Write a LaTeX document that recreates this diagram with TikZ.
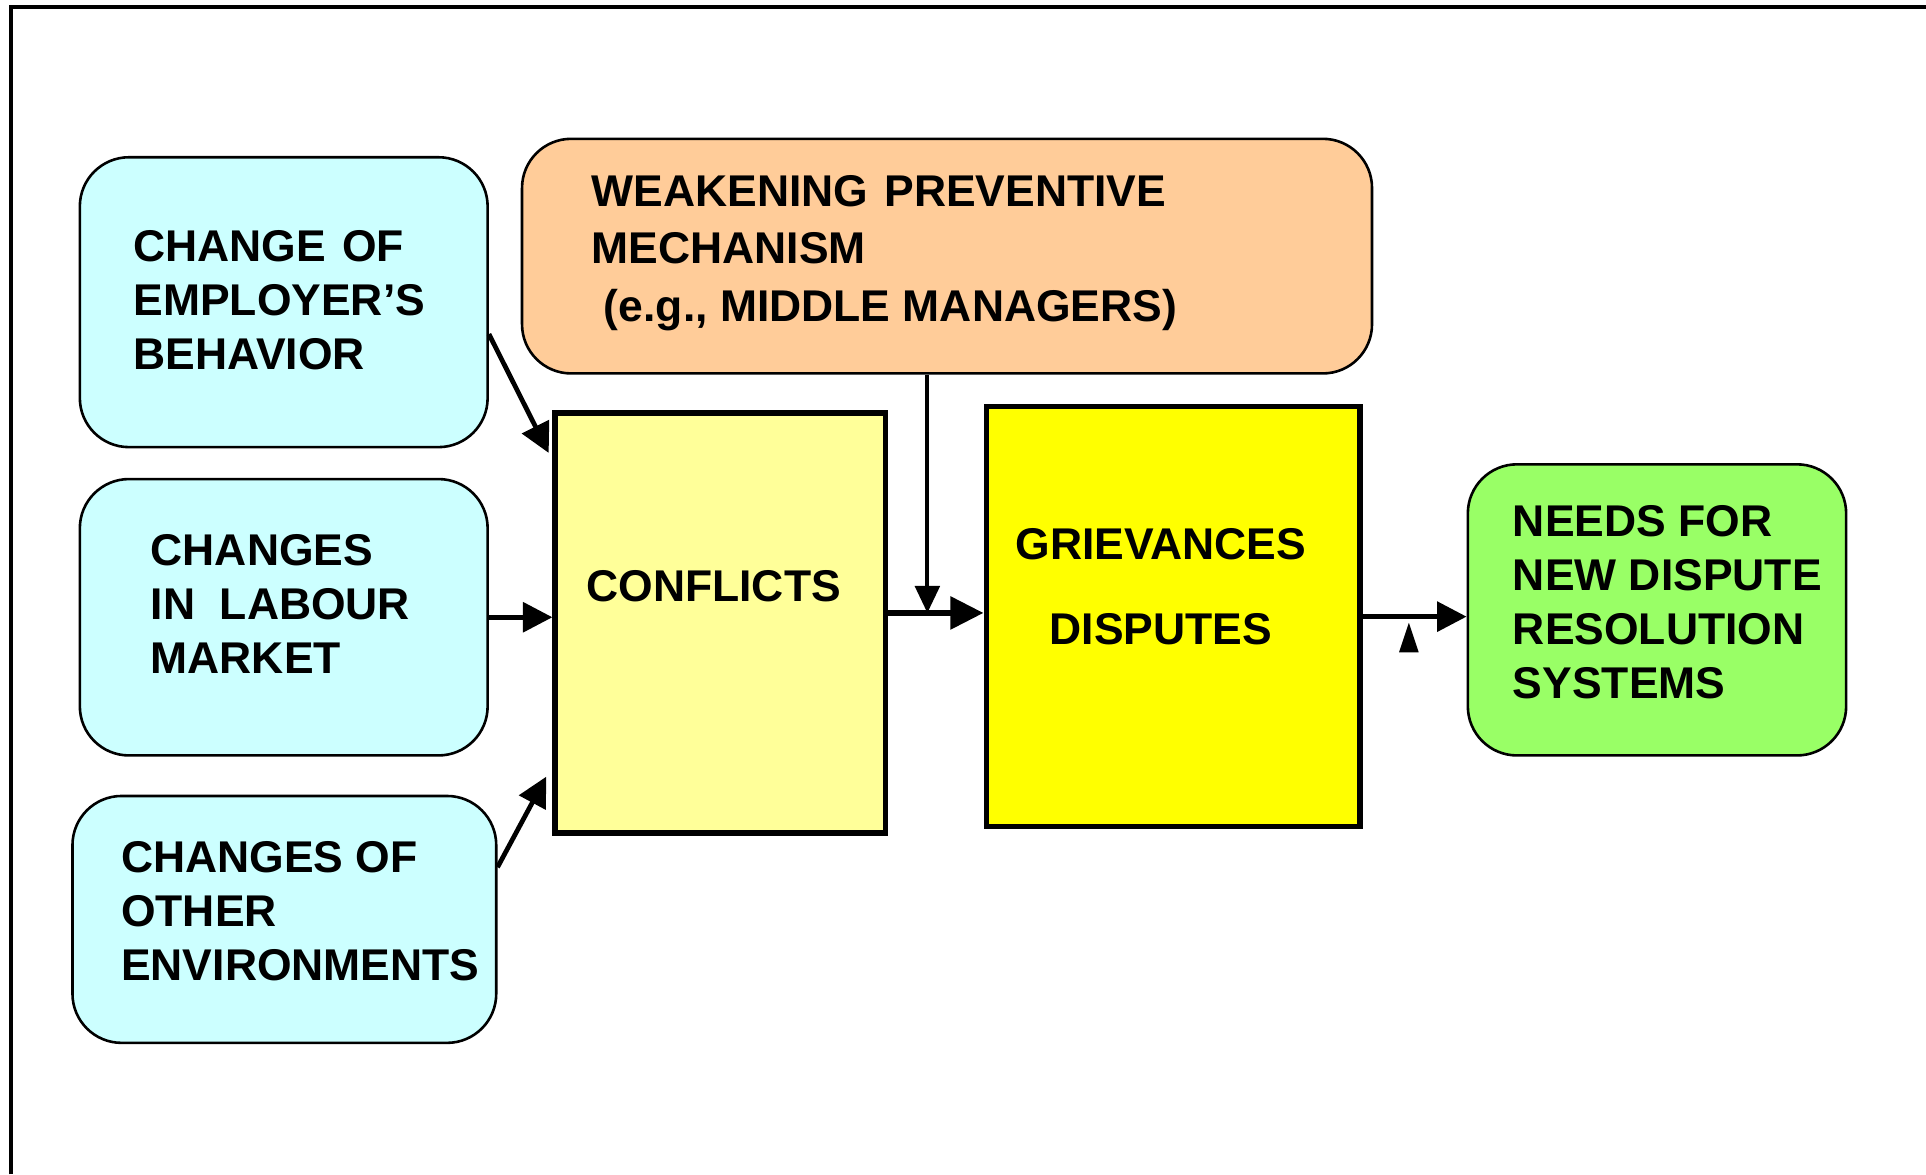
\documentclass[tikz,border=0pt]{standalone}
\usepackage{fontspec}
\setmainfont{Liberation Sans}
\usepackage{xcolor}
\usepackage{tikz}
\usetikzlibrary{arrows, arrows.meta, positioning, calc}
\definecolor{CauseCyan}{HTML}{CCFFFF}
\definecolor{WeakOrange}{HTML}{FFCC99}
\definecolor{ConflictYellow}{HTML}{FFFF99}
\definecolor{DisputeYellow}{HTML}{FFFF00}
\definecolor{NeedGreen}{HTML}{99FF66}
\newcommand{\boxfont}{\fontsize{10.3}{12.5}\selectfont\bfseries}
\tikzset{
  >=latex,
  % riquadri arrotondati
  box round/.style={draw=black,line width=0.6pt,rounded corners=4mm,inner sep=0pt},
  box cause/.style={box round,fill=CauseCyan},
  box weak/.style={box round,fill=WeakOrange},
  box need/.style={box round,fill=NeedGreen},
  % riquadri centrali
  box main/.style={draw=black,line width=1.3pt,inner sep=0pt},
  % testi
  txt/.style={inner sep=0pt,align=left,anchor=west,font=\boxfont},
  txt mid/.style={inner sep=0pt,align=center,font=\boxfont},
  % frecce
  connect arrow/.style={-{Triangle[length=2.4mm,width=2.4mm]},line width=1.1pt},
  connect thin/.style={-{Triangle[length=2.2mm,width=2mm]},line width=0.9pt},
  connect main/.style={-{Triangle[length=2.7mm,width=2.6mm]},line width=1.4pt}
}

\begin{document}
\begin{tikzpicture}[x=0.1mm,y=-0.1mm]
  \useasboundingbox (0,0) rectangle (1568,956);
  % cornice
  \draw[line width=0.85pt] (9,956) -- (9,5.5) -- (1568,5.5);

  % cause
  \node[box cause,minimum width=33.2mm,minimum height=23.6mm] (employer) at (231,246) {};
  \node[box cause,minimum width=33.2mm,minimum height=22.5mm] (labour) at (231,502.5) {};
  \node[box cause,minimum width=34.5mm,minimum height=20.1mm] (environ) at (231.5,748.5) {};
  \node[txt] (employer text) at (108,244) {CHANGE\hspace{0.36em}OF\\EMPLOYER’S\\BEHAVIOR};
  \node[txt] (labour text) at (122,492) {CHANGES\\IN~~LABOUR\\MARKET};
  \node[txt] (environ text) at (98,742) {CHANGES OF\\OTHER\\ENVIRONMENTS};

  % meccanismo preventivo
  \node[box weak,minimum width=69.2mm,minimum height=19.1mm] (weaken) at (771,208.5) {};
  \node[txt] (weaken text) at (481,206) {WEAKENING\hspace{0.36em}PREVENTIVE\\[0.3mm]MECHANISM\\[0.3mm]\hspace*{1mm}(e.g., MIDDLE MANAGERS)};

  % conflitti e controversie
  \node[box main,fill=ConflictYellow,minimum width=26.9mm,minimum height=34.2mm] (conflict) at (586.5,507) {};
  \node[box main,fill=DisputeYellow,minimum width=30.4mm,minimum height=34.2mm] (grievance) at (955,502) {};
  \node[txt mid] (conflict text) at (581,477) {CONFLICTS};
  \node[txt mid] (grievance text) at (945,477.5) {GRIEVANCES\\[2.5mm]DISPUTES};

  % bisogni
  \node[box need,minimum width=30.8mm,minimum height=23.7mm] (needs) at (1349,496.5) {};
  \node[txt] (needs text) at (1231,490) {NEEDS FOR\\NEW DISPUTE\\RESOLUTION\\SYSTEMS};

  % collegamenti
  \coordinate (join) at (755,499);
  \draw[connect arrow] ([yshift=-2.6mm]employer.east) -- ([xshift=-0.3mm,yshift=-3.5mm]conflict.north west);
  \draw[connect arrow] (labour.east) -- (labour.east -| conflict.west);
  \draw[connect arrow] ([yshift=4.25mm]environ.east) -- ([xshift=-0.5mm,yshift=4.8mm]conflict.south west);
  \draw[connect thin] (weaken.south -| join) -- (join);
  \draw[connect main] (conflict.east |- join) -- (grievance.west |- join);
  \draw[connect arrow] (grievance.east) -- (grievance.east -| needs.west);
  \fill (1147,507) -- (1155,531) -- (1139,531) -- cycle;
\end{tikzpicture}
\end{document}
